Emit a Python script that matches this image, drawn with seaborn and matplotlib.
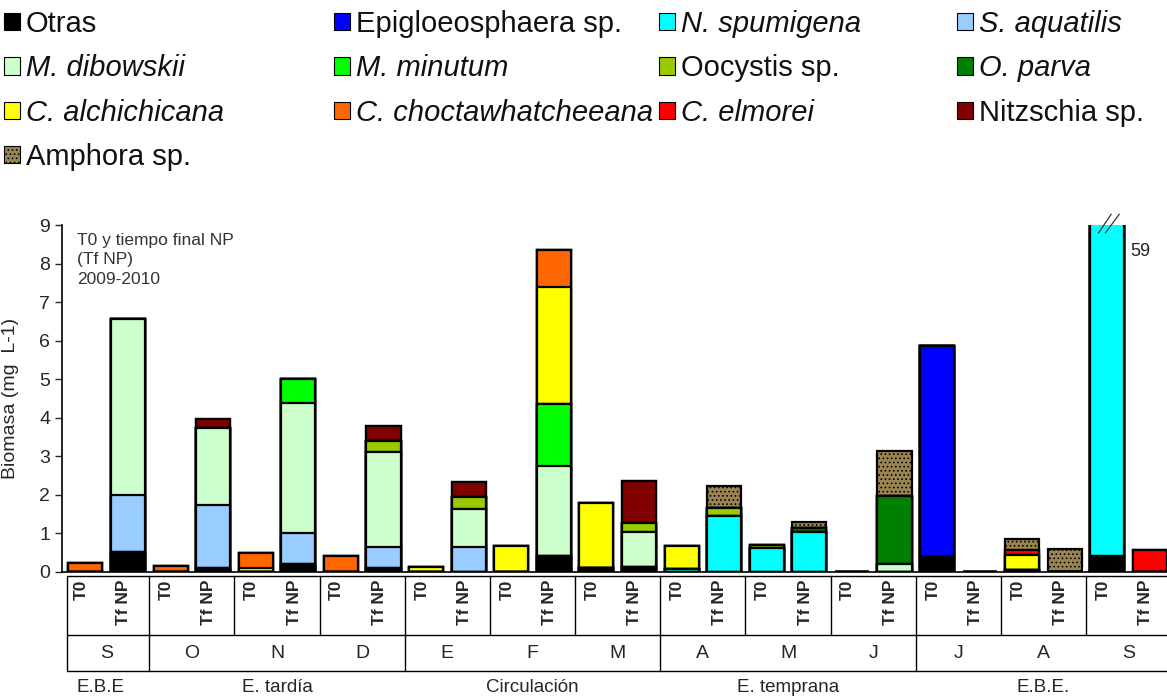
import numpy as np
import pandas as pd
import matplotlib
matplotlib.use("Agg")
import matplotlib.pyplot as plt
import matplotlib.transforms as mtransforms
from matplotlib.patches import Patch
import seaborn as sns

# samples: 13 months x (T0, Tf NP)
months = ["S", "O", "N", "D", "E", "F", "M", "A", "M", "J", "J", "A", "S"]
stages = ["T0", "Tf NP"]
seasons = ["E.B.E", "E. tardía", "Circulación", "E. temprana", "E.B.E."]
season_months = [1, 3, 3, 3, 3]

# biomass (mg L-1) per taxon, one value per bar (26 bars)
otras = [0, 0.53, 0, 0.11, 0, 0.22, 0, 0.11, 0, 0, 0, 0.41, 0.11, 0.13,
         0, 0, 0, 0, 0, 0, 0.42, 0, 0, 0, 0.41, 0]
epigloeosphaera = [0, 0, 0, 0, 0, 0, 0, 0, 0, 0, 0, 0, 0, 0,
                   0, 0, 0, 0, 0, 0, 5.43, 0, 0, 0, 0, 0]
n_spumigena = [0, 0, 0, 0, 0, 0, 0, 0, 0, 0, 0, 0, 0, 0,
               0.07, 1.44, 0.62, 1.05, 0, 0, 0, 0, 0.04, 0, 58.59, 0]
s_aquatilis = [0, 1.47, 0, 1.64, 0, 0.80, 0, 0.55, 0, 0.65, 0, 0, 0, 0,
               0, 0, 0, 0, 0, 0, 0, 0, 0, 0, 0, 0]
m_dibowskii = [0, 4.57, 0, 1.98, 0, 3.36, 0, 2.44, 0, 0.99, 0, 2.33, 0, 0.92,
               0, 0, 0, 0, 0, 0.20, 0, 0, 0, 0, 0, 0]
m_minutum = [0, 0, 0, 0, 0, 0.62, 0, 0, 0, 0, 0, 1.62, 0, 0,
             0, 0, 0, 0, 0, 0, 0, 0, 0, 0, 0, 0]
oocystis = [0, 0, 0, 0, 0, 0, 0, 0.29, 0, 0.30, 0, 0, 0, 0.23,
            0, 0.23, 0, 0, 0, 0, 0, 0, 0, 0, 0, 0]
o_parva = [0, 0, 0, 0, 0, 0, 0, 0, 0, 0, 0, 0, 0, 0,
           0, 0, 0, 0.08, 0, 1.77, 0, 0, 0, 0, 0, 0]
c_alchichicana = [0, 0, 0, 0, 0.10, 0, 0, 0, 0.12, 0, 0.67, 3.03, 1.68, 0,
                  0.60, 0, 0.09, 0, 0, 0, 0, 0, 0.40, 0, 0, 0]
c_choctaw = [0.24, 0, 0.16, 0, 0.39, 0, 0.42, 0, 0, 0, 0, 0.95, 0, 0,
             0, 0, 0, 0, 0, 0, 0, 0, 0, 0, 0, 0]
c_elmorei = [0, 0, 0, 0, 0, 0, 0, 0, 0, 0, 0, 0, 0, 0,
             0, 0, 0, 0, 0, 0, 0, 0, 0.12, 0, 0, 0.58]
nitzschia = [0, 0, 0, 0.24, 0, 0, 0, 0.40, 0, 0.39, 0, 0, 0, 1.08,
             0, 0, 0, 0, 0, 0, 0, 0, 0, 0, 0, 0]
amphora = [0, 0, 0, 0, 0, 0, 0, 0, 0, 0, 0, 0, 0, 0,
           0, 0.55, 0, 0.16, 0, 1.18, 0, 0, 0.29, 0.60, 0, 0]

taxa = ["Otras", "Epigloeosphaera sp.", "N. spumigena", "S. aquatilis",
        "M. dibowskii", "M. minutum", "Oocystis sp.", "O. parva",
        "C. alchichicana", "C. choctawhatcheeana", "C. elmorei",
        "Nitzschia sp.", "Amphora sp."]
values = [otras, epigloeosphaera, n_spumigena, s_aquatilis, m_dibowskii,
          m_minutum, oocystis, o_parva, c_alchichicana, c_choctaw,
          c_elmorei, nitzschia, amphora]
colors = ["#000000", "#0000ff", "#00ffff", "#99ccff", "#ccffcc", "#00ff00",
          "#99cc00", "#008000", "#ffff00", "#ff6600", "#ff0000", "#800000",
          "#9a8452"]
italic = [False, False, True, True, True, True, False, True, True, True,
          True, False, False]

sns.set_style("ticks")
plt.rcParams["font.family"] = ["Liberation Sans", "DejaVu Sans"]
plt.rcParams["hatch.linewidth"] = 0.7

W, H = 1167, 700
fig = plt.figure(figsize=(W / 100, H / 100), dpi=100)
ax = fig.add_axes([62 / W, 128 / H, 1105 / W, 347 / H])

df = pd.DataFrame(dict(zip(taxa, values)))
df["bar"] = np.arange(len(df))
cum = df[taxa].cumsum(axis=1)

# stacked bars: draw cumulative totals from the top taxon down
for i in range(len(taxa) - 1, -1, -1):
    sns.barplot(x=df["bar"], y=cum[taxa[i]], color=colors[i], saturation=1,
                edgecolor="black", linewidth=1.6, width=0.8, errorbar=None,
                hatch="...." if taxa[i] == "Amphora sp." else None, ax=ax)

ax.set_xlim(-0.55, 25.4)
ax.set_ylim(0, 9)
ax.set_yticks(range(10))
ax.set_xticks([])
ax.set_xlabel("")
ax.set_ylabel("Biomasa (mg  L-1)", fontsize=14)
ax.yaxis.set_label_coords(-0.039, 0.5)
ax.tick_params(axis="y", labelsize=14, length=5, width=1)
sns.despine(ax=ax)
for s in ["left", "bottom"]:
    ax.spines[s].set_linewidth(1.2)
    ax.spines[s].set_color("black")

ax.text(0.0136, 0.978, "T0 y tiempo final NP\n(Tf NP)\n2009-2010",
        transform=ax.transAxes, va="top", ha="left", fontsize=12.5,
        color="#333333", linespacing=1.4)

# broken bar marker and real value
ax.plot([23.79, 24.09], [8.79, 9.28], color="#333333", lw=0.9, clip_on=False)
ax.plot([23.95, 24.28], [8.79, 9.28], color="#333333", lw=0.9, clip_on=False)
ax.text(24.77, 8.3, "59", fontsize=13, color="#222222", ha="center", va="center")

# table under the axis
tr = mtransforms.blended_transform_factory(ax.transData, ax.transAxes)
y_top, y_mid, y_bot = -0.0115, -0.1816, -0.2853
x0, x1 = -0.43, 25.6
kw = dict(color="black", lw=1.0, transform=tr, clip_on=False)
for yy in (y_top, y_mid, y_bot):
    ax.plot([x0, x1], [yy, yy], **kw)
ax.plot([x0, x0], [y_top, y_bot], **kw)
for k in range(1, 13):
    ax.plot([2 * k - 0.5] * 2, [y_top, y_mid], **kw)
edge = -0.5
for n in season_months[:-1]:
    edge += 2 * n
    ax.plot([edge, edge], [y_mid, y_bot], **kw)

for k, m in enumerate(months):
    for j, st in enumerate(stages):
        ax.text(2 * k + j - 0.1, -0.023, st, transform=tr, rotation=90,
                ha="center", va="top", fontsize=12.5, fontweight="bold")
    ax.text(2 * k + 0.5, -0.236, m, transform=tr, ha="center", va="center",
            fontsize=14)

start = -0.5
for name, n in zip(seasons, season_months):
    xc = start + n if name != "E.B.E" else 0.35
    ax.text(xc, -0.334, name, transform=tr, ha="center", va="center",
            fontsize=13.5)
    start += 2 * n

# legend: four columns placed like the original
handles = [Patch(facecolor=c, edgecolor="black", linewidth=0.8,
                 hatch="...." if t == "Amphora sp." else None)
           for t, c in zip(taxa, colors)]
col_x = [4, 334, 659, 957]
for c in range(4):
    idx = list(range(c, len(taxa), 4))
    leg = fig.legend([handles[i] for i in idx], [taxa[i] for i in idx],
                     loc="upper left", bbox_to_anchor=(col_x[c] / W, 1 - 10 / H),
                     frameon=False, fontsize=21, handlelength=0.55,
                     handleheight=0.55, handletextpad=0.2, labelspacing=0.56,
                     borderpad=0, borderaxespad=0)
    for t, i in zip(leg.get_texts(), idx):
        t.set_color("#111111")
        if italic[i]:
            t.set_fontstyle("italic")

fig.savefig("out.png", dpi=100)
